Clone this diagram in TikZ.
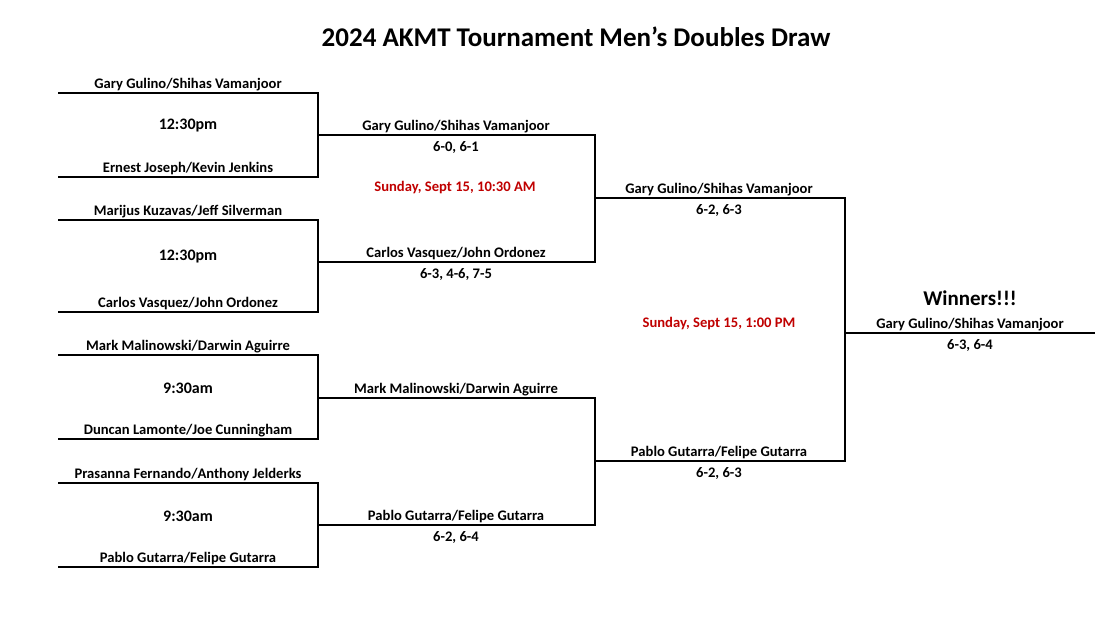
\documentclass[tikz,border=0pt]{standalone}
\usepackage{fontspec}
\setmainfont{Carlito}
\usetikzlibrary{positioning}
\definecolor{datered}{RGB}{192,0,0}
\begin{document}
\begin{tikzpicture}
            [x=1pt,y=-1pt,
             line/.style = {line width=1.8pt},
             team/.style = {font=\bfseries\fontsize{14.6}{16}\selectfont, anchor=south, inner sep=2pt},
             score/.style = {font=\bfseries\fontsize{14.6}{16}\selectfont, anchor=north, inner sep=6pt},
             slot/.style = {font=\bfseries\fontsize{16}{18}\selectfont},
             day/.style = {font=\bfseries\fontsize{14.6}{16}\selectfont, text=datered}]
            \useasboundingbox (0,0) rectangle (1113,624);

            \node[font=\bfseries\fontsize{27}{30}\selectfont] (title) at (576,37) {2024 AKMT Tournament Men's Doubles Draw};

            % first round
            \foreach \i/\ya/\yb/\na/\nb/\t in {
                a/93/177/Gary Gulino\slash Shihas Vamanjoor/Ernest Joseph\slash Kevin Jenkins/12:30pm,
                b/220/312/Marijus Kuzavas\slash Jeff Silverman/Carlos Vasquez\slash John Ordonez/12:30pm,
                c/355/439/Mark Malinowski\slash Darwin Aguirre/Duncan Lamonte\slash Joe Cunningham/9:30am,
                d/483/567/Prasanna Fernando\slash Anthony Jelderks/Pablo Gutarra\slash Felipe Gutarra/9:30am} {
                \coordinate (\i1) at (58,\ya);
                \coordinate (\i2) at (318,\ya);
                \coordinate (\i3) at (58,\yb);
                \coordinate (\i4) at (318,\yb);
                \draw[line] (\i1) -- (\i2) -- (\i4) -- (\i3);
                \node[team] (\i top) at (188,\ya) {\na};
                \node[team] (\i bot) at (188,\yb) {\nb};
                \node[slot] (\i time) at (188,{(\ya+\yb)/2-9}) {\t};
            }

            % second round
            \coordinate (ab1) at (318,135);
            \coordinate (ab2) at (595,135);
            \coordinate (ab3) at (318,262);
            \coordinate (ab4) at (595,262);
            \coordinate (cd1) at (318,398);
            \coordinate (cd2) at (595,398);
            \coordinate (cd3) at (318,525);
            \coordinate (cd4) at (595,525);
            \draw[line] (ab1) -- (ab2) -- (ab4) -- (ab3);
            \draw[line] (cd1) -- (cd2) -- (cd4) -- (cd3);
            \node[team] (ab top) at (456,135) {Gary Gulino/Shihas Vamanjoor};
            \node[score] (ab topscore) at (456,135) {6-0, 6-1};
            \node[team] (ab bot) at (456,262) {Carlos Vasquez/John Ordonez};
            \node[score] (ab botscore) at (456,262) {6-3, 4-6, 7-5};
            \node[team] (cd top) at (456,398) {Mark Malinowski/Darwin Aguirre};
            \node[team] (cd bot) at (456,525) {Pablo Gutarra/Felipe Gutarra};
            \node[score] (cd botscore) at (456,525) {6-2, 6-4};
            \node[day] (sat) at (455,188) {Sunday, Sept 15, 10:30 AM};

            % semi final
            \coordinate (s1) at (595,198);
            \coordinate (s2) at (845,198);
            \coordinate (s3) at (595,461);
            \coordinate (s4) at (845,461);
            \draw[line] (s1) -- (s2) -- (s4) -- (s3);
            \node[team] (s top) at (719,198) {Gary Gulino/Shihas Vamanjoor};
            \node[score] (s topscore) at (719,198) {6-2, 6-3};
            \node[team] (s bot) at (719,461) {Pablo Gutarra/Felipe Gutarra};
            \node[score] (s botscore) at (719,461) {6-2, 6-3};
            \node[day] (sun) at (719,324) {Sunday, Sept 15, 1:00 PM};

            % final
            \coordinate (f1) at (845,333);
            \coordinate (f2) at (1095,333);
            \draw[line] (f1) -- (f2);
            \node[font=\bfseries\fontsize{21}{24}\selectfont] (win) at (970,298) {Winners!!!};
            \node[team] (f top) at (970,333) {Gary Gulino/Shihas Vamanjoor};
            \node[score] (f score) at (970,333) {6-3, 6-4};

        \end{tikzpicture}
\end{document}
